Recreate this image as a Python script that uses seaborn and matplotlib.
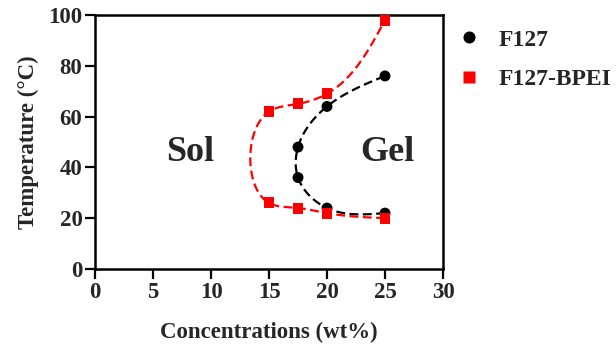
import numpy as np
import pandas as pd
import matplotlib
matplotlib.use("Agg")
import matplotlib.pyplot as plt
import seaborn as sns

# ---- data ----
f127_conc = [25, 20, 17.5, 17.5, 20, 25]
f127_temp = [22, 24, 36, 48, 64, 76]
bpei_conc = [25, 20, 17.5, 15, 15, 17.5, 20, 25]
bpei_temp = [20, 22, 24, 26, 62, 65, 69, 98]
series_names = ["F127", "F127-BPEI"]
series_colors = ["black", "red"]
x_ticks = [0, 5, 10, 15, 20, 25, 30]
y_ticks = [0, 20, 40, 60, 80, 100]

sns.set_theme(style="ticks")
plt.rcParams["font.family"] = ["Liberation Serif", "DejaVu Serif"]
plt.rcParams["font.weight"] = "bold"

W, H = 616, 351
fig = plt.figure(figsize=(W / 100, H / 100), dpi=100)
L, R, T, B = 95, 443, 15, 269
ax = fig.add_axes([L / W, 1 - B / H, (R - L) / W, (B - T) / H])


def natural_spline(t, v, tt):
    n = len(t)
    h = np.diff(t)
    A = np.zeros((n, n))
    rhs = np.zeros(n)
    A[0, 0] = 1
    A[-1, -1] = 1
    for i in range(1, n - 1):
        A[i, i - 1] = h[i - 1]
        A[i, i] = 2 * (h[i - 1] + h[i])
        A[i, i + 1] = h[i]
        rhs[i] = 6 * ((v[i + 1] - v[i]) / h[i] - (v[i] - v[i - 1]) / h[i - 1])
    M = np.linalg.solve(A, rhs)
    out = np.empty_like(tt)
    for k, s in enumerate(tt):
        i = min(np.searchsorted(t, s, side="right") - 1, n - 2)
        i = max(i, 0)
        a = (t[i + 1] - s) / h[i]
        b = (s - t[i]) / h[i]
        out[k] = a * v[i] + b * v[i + 1] + ((a**3 - a) * M[i] + (b**3 - b) * M[i + 1]) * h[i] ** 2 / 6
    return out


def smooth_curve(xs, ys):
    xs = np.asarray(xs, float)
    ys = np.asarray(ys, float)
    px = xs * (R - L) / 30.0
    py = ys * (B - T) / 100.0
    d = np.sqrt(np.diff(px) ** 2 + np.diff(py) ** 2)
    t = np.concatenate([[0], np.cumsum(d)])
    tt = np.linspace(0, t[-1], 400)
    return natural_spline(t, xs, tt), natural_spline(t, ys, tt)


for xs, ys, c in [(f127_conc, f127_temp, "black"), (bpei_conc, bpei_temp, "red")]:
    cx, cy = smooth_curve(xs, ys)
    curve = pd.DataFrame({"x": cx, "y": cy})
    sns.lineplot(data=curve, x="x", y="y", sort=False, estimator=None, ax=ax,
                 color=c, lw=1.6, dashes=False, linestyle=(0, (4, 2)), zorder=2)

pts = pd.DataFrame({
    "conc": f127_conc + bpei_conc,
    "temp": f127_temp + bpei_temp,
    "series": [series_names[0]] * len(f127_conc) + [series_names[1]] * len(bpei_conc),
})
sns.scatterplot(data=pts, x="conc", y="temp", hue="series", style="series",
                palette=dict(zip(series_names, series_colors)),
                markers={"F127": "o", "F127-BPEI": "s"}, s=62, edgecolor="none",
                ax=ax, zorder=3, legend=True)

ax.set_xlim(0, 30)
ax.set_ylim(0, 100)
ax.set_xticks(x_ticks)
ax.set_yticks(y_ticks)
ax.tick_params(direction="out", length=7, width=1.6, labelsize=16.5, pad=2, color="black")
for lab in ax.get_xticklabels() + ax.get_yticklabels():
    lab.set_fontweight("bold")
for s in ax.spines.values():
    s.set_linewidth(1.8)
    s.set_color("black")
    s.set_visible(True)

ax.set_xlabel("Concentrations (wt%)", fontsize=16.5, fontweight="bold", labelpad=14)
ax.set_ylabel("Temperature (°C)", fontsize=16.5, fontweight="bold", labelpad=7)

ax.text(8.2, 46, "Sol", fontsize=26, fontweight="bold", ha="center", va="center")
ax.text(25.2, 46, "Gel", fontsize=26, fontweight="bold", ha="center", va="center")

handles, labels = ax.get_legend_handles_labels()
fs = 17
em = fs * 100 / 72
leg = ax.legend(handles, labels, loc="upper left",
                bbox_to_anchor=((469 - 0.5 * em) / W, 1 - 29 / H),
                bbox_transform=fig.transFigure, frameon=False, fontsize=fs,
                handlelength=1.0, handletextpad=(499 - 469 + 0.5 * em) / em - 1.0,
                borderaxespad=0, borderpad=0, labelspacing=0.75, markerscale=1.1)
for t in leg.get_texts():
    t.set_fontweight("bold")

fig.savefig("out.png", dpi=100)
